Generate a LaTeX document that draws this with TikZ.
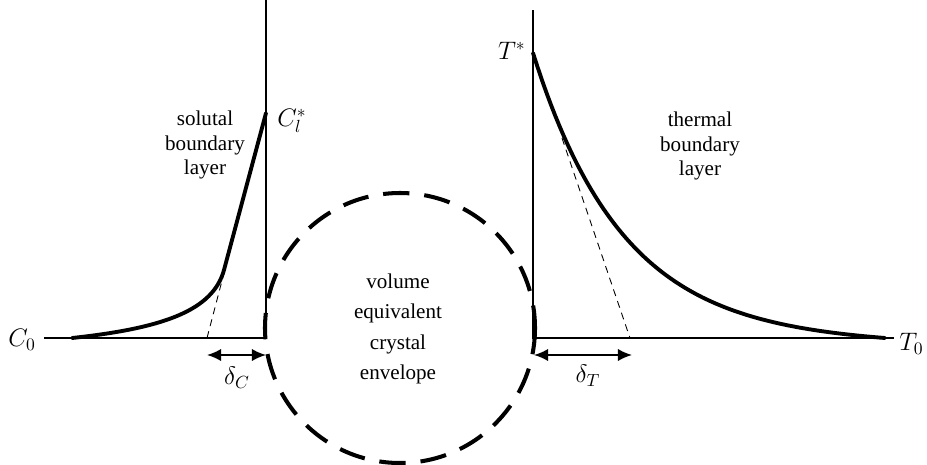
\documentclass[tikz,border=0pt]{standalone}
\usepackage{fontspec}
\setmainfont{Liberation Serif}
\usetikzlibrary{arrows.meta}

\begin{document}
\begin{tikzpicture}[x=0.02cm, y=-0.02cm,
	profile/.style={line width=2.2pt, line cap=round},
	axisline/.style={line width=0.6pt},
	tangent/.style={line width=0.5pt, dash pattern=on 4pt off 3pt},
	widtharrow/.style={line width=1pt, {Latex[length=8pt,width=7pt]}-{Latex[length=8pt,width=7pt]}},
	envelope/.style={line width=2.3pt, dash pattern=on 15pt off 8.5pt},
	layertext/.style={font=\fontsize{12}{14.2}\selectfont, align=center},
	mathlabel/.style={font=\fontsize{14}{16}\selectfont, inner sep=0pt}]
	\useasboundingbox (0,0) rectangle (927,464);
	% Paths, nodes and wires:
	\coordinate (CAxisTop) at (266,0);
	\coordinate (CCorner) at (266,338);
	\coordinate (CAxisEnd) at (44,338);
	\coordinate (CStart) at (72,338);
	\coordinate (CBend) at (224,270);
	\coordinate (CTop) at (266,113);
	\coordinate (CTanFoot) at (207,338);
	\coordinate (CTanHead) at (262,128);
	\coordinate (TAxisTop) at (533,10);
	\coordinate (TCorner) at (533,338);
	\coordinate (TAxisEnd) at (894,338);
	\coordinate (TTop) at (533,53);
	\coordinate (TTanHead) at (562,138);
	\coordinate (TTanFoot) at (630,338);
	\draw[axisline] (CAxisTop) -- (CCorner) -- (CAxisEnd);
	\draw[axisline] (TAxisTop) -- (TCorner) -- (TAxisEnd);
	\draw[tangent] (CTanFoot) -- (CTanHead);
	\draw[tangent] (TTanHead) -- (TTanFoot);
	\draw[profile] (CStart) .. controls (165,328) and (213,310) .. (CBend) -- (CTop);
	\draw[profile] plot[domain=0:352, samples=80] ({533+\x}, {338-285*(exp(-\x/90)-0.02*\x/352)});
	\draw[envelope] (400,328) circle[radius=135];
	\draw[widtharrow] (207,355) -- (266,355);
	\draw[widtharrow] (534,355) -- (632,355);
	\node[mathlabel] (C0) at (22,340) {$C_0$};
	\node[mathlabel, anchor=west] (Cl) at (277,121) {$C_l^*$};
	\node[mathlabel, anchor=east] (Ts) at (526,51) {$T^*$};
	\node[mathlabel, anchor=east] (T0) at (924,344) {$T_0$};
	\node[mathlabel] (dC) at (237,378) {$\delta_C$};
	\node[mathlabel] (dT) at (588,376) {$\delta_T$};
	\node[layertext] (solutal) at (205,145) {solutal\\boundary\\layer};
	\node[layertext] (thermal) at (700,146) {thermal\\boundary\\layer};
	\node[layertext, font=\fontsize{12}{17.4}\selectfont] (crystal) at (398,329) {volume\\equivalent\\crystal\\envelope};
\end{tikzpicture}
\end{document}
